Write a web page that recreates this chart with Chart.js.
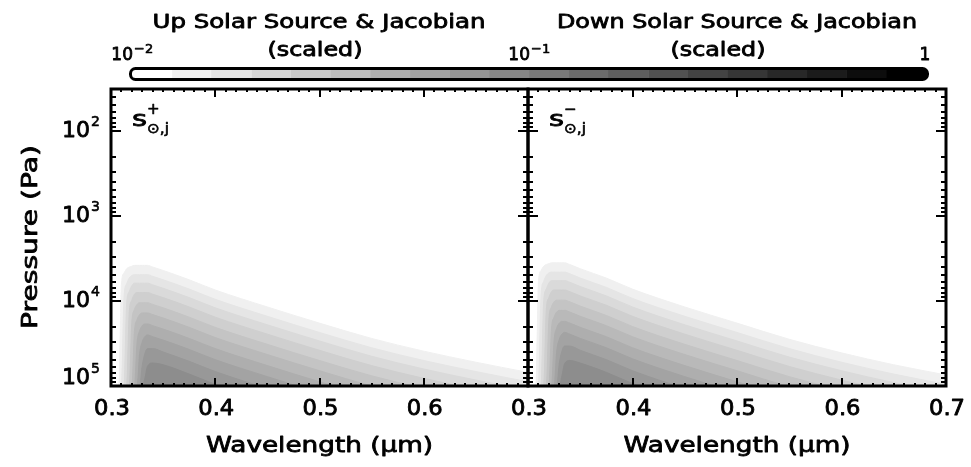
<!DOCTYPE html>
<html>
<head>
<meta charset="utf-8">
<script src="https://cdn.jsdelivr.net/npm/chart.js@4.4.1/dist/chart.umd.min.js"></script>
<style>
html, body { margin: 0; padding: 0; background: #fff; }
#wrap { position: relative; width: 971px; height: 467px; }
#wrap canvas { position: absolute; left: 0; top: 0; }
</style>
</head>
<body>
<div id="wrap">
<canvas id="upChart" width="971" height="467"></canvas>
<canvas id="downChart" width="971" height="467"></canvas>
<canvas id="barChart" width="971" height="467"></canvas>
</div>
<script>
// wavelength grid (um) shared by every contour edge
const wavelength = [0.305, 0.3075, 0.31, 0.3125, 0.315, 0.3175, 0.32, 0.3225, 0.325, 0.3275, 0.33, 0.3325,
    0.335, 0.34, 0.35, 0.375, 0.4, 0.45, 0.5, 0.55, 0.6, 0.65, 0.7];

// log10 of pressure (Pa) at the upper edge of each filled contour, lightest level first
const upLogP = [
    [5, 5, 3.80, 3.67, 3.62, 3.60, 3.59, 3.58, 3.58, 3.58, 3.58, 3.58, 3.58, 3.60, 3.64, 3.75, 3.87, 4.07, 4.26, 4.44, 4.59, 4.72, 4.84],
    [5, 5, 5, 3.96, 3.80, 3.73, 3.70, 3.69, 3.69, 3.69, 3.69, 3.69, 3.69, 3.71, 3.75, 3.86, 3.98, 4.18, 4.37, 4.55, 4.70, 4.83, 4.95],
    [5, 5, 5, 5, 4.04, 3.89, 3.82, 3.79, 3.79, 3.79, 3.79, 3.79, 3.79, 3.81, 3.85, 3.96, 4.08, 4.28, 4.47, 4.65, 4.80, 4.93, 5.05],
    [5, 5, 5, 5, 5, 4.14, 3.99, 3.92, 3.90, 3.90, 3.90, 3.90, 3.90, 3.92, 3.96, 4.07, 4.19, 4.39, 4.58, 4.76, 4.91, 5.04, 5.16],
    [5, 5, 5, 5, 5, 5, 4.25, 4.10, 4.04, 4.02, 4.02, 4.02, 4.02, 4.04, 4.08, 4.19, 4.31, 4.51, 4.70, 4.88, 5.03, 5.16, 5.28],
    [5, 5, 5, 5, 5, 5, 5, 4.36, 4.22, 4.16, 4.14, 4.14, 4.14, 4.16, 4.20, 4.31, 4.43, 4.63, 4.82, 5.00, 5.15, 5.28, 5.40],
    [5, 5, 5, 5, 5, 5, 5, 5, 4.49, 4.35, 4.29, 4.27, 4.27, 4.29, 4.33, 4.44, 4.56, 4.76, 4.95, 5.13, 5.28, 5.41, 5.53],
    [5, 5, 5, 5, 5, 5, 5, 5, 5, 4.62, 4.48, 4.42, 4.40, 4.42, 4.46, 4.57, 4.69, 4.89, 5.08, 5.26, 5.41, 5.54, 5.66],
    [5, 5, 5, 5, 5, 5, 5, 5, 5, 5, 4.76, 4.62, 4.56, 4.56, 4.60, 4.71, 4.83, 5.03, 5.22, 5.40, 5.55, 5.68, 5.80],
    [5, 5, 5, 5, 5, 5, 5, 5, 5, 5, 5, 4.91, 4.77, 4.73, 4.75, 4.86, 4.98, 5.18, 5.37, 5.55, 5.70, 5.83, 5.95]
];

const downLogP = [
    [5, 5, 3.77, 3.64, 3.59, 3.57, 3.56, 3.55, 3.55, 3.55, 3.55, 3.55, 3.55, 3.57, 3.62, 3.73, 3.86, 4.07, 4.26, 4.45, 4.61, 4.75, 4.87],
    [5, 5, 5, 3.93, 3.77, 3.70, 3.67, 3.66, 3.66, 3.66, 3.66, 3.66, 3.66, 3.68, 3.73, 3.84, 3.97, 4.18, 4.37, 4.56, 4.72, 4.86, 4.98],
    [5, 5, 5, 5, 4.01, 3.86, 3.79, 3.76, 3.76, 3.76, 3.76, 3.76, 3.76, 3.78, 3.83, 3.94, 4.07, 4.28, 4.47, 4.66, 4.82, 4.96, 5.08],
    [5, 5, 5, 5, 5, 4.11, 3.96, 3.89, 3.87, 3.87, 3.87, 3.87, 3.87, 3.89, 3.94, 4.05, 4.18, 4.39, 4.58, 4.77, 4.93, 5.07, 5.19],
    [5, 5, 5, 5, 5, 5, 4.22, 4.07, 4.01, 3.99, 3.99, 3.99, 3.99, 4.01, 4.06, 4.17, 4.30, 4.51, 4.70, 4.89, 5.05, 5.19, 5.31],
    [5, 5, 5, 5, 5, 5, 5, 4.33, 4.19, 4.13, 4.11, 4.11, 4.11, 4.13, 4.18, 4.29, 4.42, 4.63, 4.82, 5.01, 5.17, 5.31, 5.43],
    [5, 5, 5, 5, 5, 5, 5, 5, 4.46, 4.32, 4.26, 4.24, 4.24, 4.26, 4.31, 4.42, 4.55, 4.76, 4.95, 5.14, 5.30, 5.44, 5.56],
    [5, 5, 5, 5, 5, 5, 5, 5, 5, 4.59, 4.45, 4.39, 4.37, 4.39, 4.44, 4.55, 4.68, 4.89, 5.08, 5.27, 5.43, 5.57, 5.69],
    [5, 5, 5, 5, 5, 5, 5, 5, 5, 5, 4.73, 4.59, 4.53, 4.53, 4.58, 4.69, 4.82, 5.03, 5.22, 5.41, 5.57, 5.71, 5.83],
    [5, 5, 5, 5, 5, 5, 5, 5, 5, 5, 5, 4.88, 4.74, 4.70, 4.73, 4.84, 4.97, 5.18, 5.37, 5.56, 5.72, 5.86, 5.98]
];

// grey value of each filled level (lightest first)
const levelGrays = [240, 229, 218, 207, 196, 185, 174, 163, 152, 141];

// colour bar: segment edges (scaled value) and grey of each segment
const colorbarEdges = [0.01, 0.0126, 0.0158, 0.02, 0.0251, 0.0316, 0.0398, 0.0501, 0.0631, 0.0794,
    0.1, 0.126, 0.158, 0.2, 0.251, 0.316, 0.398, 0.501, 0.631, 0.794, 1];
const colorbarGrays = [255, 241, 228, 214, 201, 188, 174, 161, 148, 134, 121, 107, 94, 81, 67, 54, 40, 27, 13, 0];

// tick labels
const xTickLabelsUp = ['0.3', '0.4', '0.5', '0.6'];
const xTickLabelsDown = ['0.3', '0.4', '0.5', '0.6', '0.7'];
const yTickExponents = [2, 3, 4, 5];

const P_MIN = 32;
const P_MAX = 1e5;
const FONT = '"DejaVu Sans", sans-serif';

function gray(g) {
    return 'rgb(' + g + ',' + g + ',' + g + ')';
}

// draw text a little heavier than book weight, optionally stretched to a given width
function drawText(ctx, text, x, y, size, width, align) {
    ctx.font = size + 'px ' + FONT;
    const w = ctx.measureText(text).width;
    const sx = width ? width / w : 1;
    ctx.save();
    ctx.translate(x, y);
    ctx.scale(sx, 1);
    ctx.textAlign = align || 'center';
    ctx.textBaseline = 'middle';
    ctx.lineWidth = size > 16 ? 0.8 : 0.6;
    ctx.lineJoin = 'round';
    ctx.fillText(text, 0, 0);
    ctx.strokeText(text, 0, 0);
    ctx.restore();
}

// "10" with a superscript exponent, the base ending at x
function drawPower(ctx, exp, x, y, size, supSize) {
    drawText(ctx, '10', x, y, size, 0, 'right');
    drawText(ctx, exp, x + 1, y - size * 0.4, supSize, 0, 'left');
}

function contourSets(table) {
    return table.map((row, k) => ({
        data: row.map((v, i) => ({ x: wavelength[i], y: Math.pow(10, v) })),
        fill: { value: P_MAX },
        backgroundColor: gray(levelGrays[k]),
        borderColor: gray(levelGrays[k]),
        borderWidth: 1,
        pointRadius: 0,
        cubicInterpolationMode: 'monotone',
        order: table.length - k
    }));
}

// axes box, inward ticks and labels
const framePlugin = {
    id: 'frame',
    afterDraw(chart, args, opts) {
        const { ctx, chartArea: a } = chart;
        const x = chart.scales.x;
        const y = chart.scales.y;
        ctx.save();
        ctx.strokeStyle = '#000';
        ctx.fillStyle = '#000';

        ctx.lineWidth = 2;
        ctx.beginPath();
        for (let e = 1; e <= 5; e++) {
            for (let m = 1; m <= 9; m++) {
                const v = m * Math.pow(10, e);
                if (v < P_MIN || v > P_MAX) continue;
                const py = Math.round(y.getPixelForValue(v));
                const len = m === 1 ? 10 : 5;
                ctx.moveTo(a.left, py);
                ctx.lineTo(a.left + len, py);
                ctx.moveTo(a.right, py);
                ctx.lineTo(a.right - len, py);
            }
        }
        for (let t = 30; t <= 70; t++) {
            const px = Math.round(x.getPixelForValue(t / 100));
            const len = t % 10 === 0 ? 8 : 3;
            ctx.moveTo(px, a.bottom);
            ctx.lineTo(px, a.bottom - len);
            ctx.moveTo(px, a.top);
            ctx.lineTo(px, a.top + len);
        }
        ctx.stroke();

        ctx.lineWidth = 3;
        ctx.strokeRect(a.left, a.top, a.right - a.left, a.bottom - a.top);

        // x tick labels and title
        opts.xLabels.forEach(lbl => {
            const px = x.getPixelForValue(parseFloat(lbl));
            drawText(ctx, lbl, px + 1, 410, 21, 36);
        });
        drawText(ctx, 'Wavelength (μm)', (a.left + a.right) / 2, 446, 22, 227);

        // y tick labels and title
        if (opts.yLabels) {
            yTickExponents.forEach(e => {
                const py = Math.min(y.getPixelForValue(Math.pow(10, e)), a.bottom - 8);
                drawPower(ctx, String(e), 90, py, 22, 14);
            });
            ctx.save();
            ctx.translate(31, 237);
            ctx.rotate(-Math.PI / 2);
            drawText(ctx, 'Pressure (Pa)', 0, 0, 22, 184);
            ctx.restore();
        }

        // panel tag s with solar subscript
        const tx = a.left + 21;
        drawText(ctx, 's', tx, 121, 21, 15, 'left');
        drawText(ctx, '⊙,j', tx + 15, 129, 14, 22, 'left');
        drawText(ctx, opts.tag, tx + 15, 110, 15, 0, 'left');
        ctx.restore();
    }
};

function panelConfig(table, pad, frame) {
    return {
        type: 'line',
        data: { datasets: contourSets(table) },
        plugins: [framePlugin],
        options: {
            responsive: false,
            animation: false,
            devicePixelRatio: 1,
            layout: { padding: pad },
            plugins: {
                legend: { display: false },
                tooltip: { enabled: false },
                frame: frame
            },
            scales: {
                x: { type: 'linear', min: 0.3, max: 0.7, display: false },
                y: { type: 'logarithmic', min: P_MIN, max: P_MAX, reverse: true, display: false }
            }
        }
    };
}

const upChart = new Chart(
    document.getElementById('upChart'),
    panelConfig(upLogP, { left: 111, right: 443, top: 89, bottom: 81 },
        { xLabels: xTickLabelsUp, yLabels: true, tag: '+' })
);

const downChart = new Chart(
    document.getElementById('downChart'),
    panelConfig(downLogP, { left: 528, right: 25, top: 89, bottom: 81 },
        { xLabels: xTickLabelsDown, yLabels: false, tag: '−' })
);

// colour bar outline, its labels and the two titles
const colorbarPlugin = {
    id: 'colorbarFrame',
    afterDraw(chart) {
        const { ctx, chartArea: a } = chart;
        const x = chart.scales.x;
        ctx.save();
        ctx.strokeStyle = '#000';
        ctx.fillStyle = '#000';
        ctx.lineWidth = 3;
        ctx.beginPath();
        ctx.roundRect(a.left - 1.5, a.top - 1.5, a.right - a.left + 3, a.bottom - a.top + 3, 5);
        ctx.stroke();

        drawPower(ctx, '−2', x.getPixelForValue(0.01) + 1, 56, 17, 13);
        drawPower(ctx, '−1', x.getPixelForValue(0.1) + 1, 56, 17, 13);
        drawText(ctx, '1', x.getPixelForValue(1) - 1, 56, 17, 0);

        drawText(ctx, 'Up Solar Source & Jacobian', 319, 23, 19, 333);
        drawText(ctx, '(scaled)', 315, 51, 19, 95);
        drawText(ctx, 'Down Solar Source & Jacobian', 737, 23, 19, 360);
        drawText(ctx, '(scaled)', 718, 51, 19, 95);
        ctx.restore();
    }
};

const barChart = new Chart(document.getElementById('barChart'), {
    type: 'bar',
    data: {
        labels: ['scale'],
        datasets: colorbarGrays.map((g, i) => ({
            data: [[colorbarEdges[i], colorbarEdges[i + 1]]],
            backgroundColor: gray(g),
            borderWidth: 0,
            barPercentage: 1,
            categoryPercentage: 1,
            grouped: false
        }))
    },
    plugins: [colorbarPlugin],
    options: {
        indexAxis: 'y',
        responsive: false,
        animation: false,
        devicePixelRatio: 1,
        layout: { padding: { left: 132, right: 45, top: 70, bottom: 389 } },
        plugins: {
            legend: { display: false },
            tooltip: { enabled: false }
        },
        scales: {
            x: { type: 'logarithmic', min: 0.01, max: 1, display: false },
            y: { display: false }
        }
    }
});
</script>
</body>
</html>
